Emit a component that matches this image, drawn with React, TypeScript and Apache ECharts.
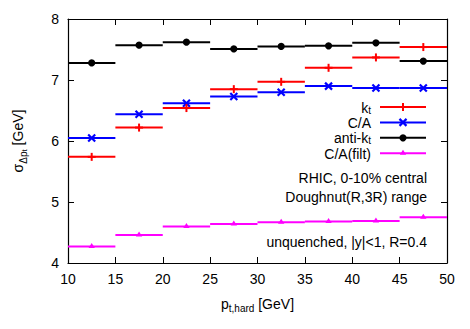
import React, { useEffect, useRef } from "react";
import * as echarts from "echarts";

const binLo = [10, 15, 20, 25, 30, 35, 40, 45];
const binHi = [15, 20, 25, 30, 35, 40, 45, 50];
const binCenter = [12.5, 17.5, 22.5, 27.5, 32.5, 37.5, 42.5, 47.5];

const ktValues = [5.74, 6.22, 6.54, 6.85, 6.97, 7.2, 7.37, 7.54];
const caValues = [6.05, 6.44, 6.62, 6.73, 6.8, 6.9, 6.87, 6.87];
const antiKtValues = [7.28, 7.57, 7.62, 7.51, 7.55, 7.56, 7.61, 7.31];
const caFiltValues = [4.27, 4.46, 4.6, 4.64, 4.67, 4.68, 4.69, 4.75];

const seriesNames = ["k_t", "C/A", "anti-k_t", "C/A(filt)"];
const legendLabels = ["k{lsub|t}", "C/A", "anti-k{lsub|t}", "C/A(filt)"];
const seriesColors = ["#ff0000", "#0000ff", "#000000", "#ff00ff"];
const seriesMarkers = ["plus", "cross", "circle", "triangle"];
const seriesValues = [ktValues, caValues, antiKtValues, caFiltValues];

const annotations = ["RHIC, 0-10% central", "Doughnut(R,3R) range", "unquenched, |y|<1, R=0.4"];

const FONT = "'Liberation Sans', Arial, Helvetica, sans-serif";

const subRich = {
  sub: { fontSize: 10, fontFamily: FONT, lineHeight: 10, verticalAlign: "bottom", color: "#000" },
  subsub: { fontSize: 8, fontFamily: FONT, lineHeight: 6, verticalAlign: "bottom", color: "#000" },
  lsub: { fontSize: 10, fontFamily: FONT, lineHeight: 7, verticalAlign: "bottom", color: "#000" },
};

function markerShapes(kind: string, cx: number, cy: number, color: string): any[] {
  if (kind === "plus") {
    return [
      { type: "line", shape: { x1: cx, y1: cy - 4, x2: cx, y2: cy + 4 }, style: { stroke: color, lineWidth: 2 } },
      { type: "line", shape: { x1: cx - 4, y1: cy, x2: cx + 4, y2: cy }, style: { stroke: color, lineWidth: 2 } },
    ];
  }
  if (kind === "cross") {
    return [
      { type: "line", shape: { x1: cx - 3.5, y1: cy - 3.5, x2: cx + 3.5, y2: cy + 3.5 }, style: { stroke: color, lineWidth: 2.2 } },
      { type: "line", shape: { x1: cx - 3.5, y1: cy + 3.5, x2: cx + 3.5, y2: cy - 3.5 }, style: { stroke: color, lineWidth: 2.2 } },
    ];
  }
  if (kind === "circle") {
    return [{ type: "circle", shape: { cx, cy, r: 3.6 }, style: { fill: color } }];
  }
  return [
    {
      type: "polygon",
      shape: { points: [[cx, cy - 3.5], [cx - 3.2, cy + 1.5], [cx + 3.2, cy + 1.5]] },
      style: { fill: color },
    },
  ];
}

export default function App() {
  const ref = useRef<HTMLDivElement>(null);

  useEffect(() => {
    if (!ref.current) return;
    const chart = echarts.init(ref.current, undefined, { renderer: "svg" });

    const series: any[] = seriesValues.map((vals, si) => ({
      type: "custom",
      name: seriesNames[si],
      xAxisIndex: 0,
      yAxisIndex: 0,
      data: vals.map((v, i) => [binLo[i], binHi[i], binCenter[i], v]),
      encode: { x: [0, 1, 2], y: 3 },
      renderItem: (params: any, api: any) => {
        const y = api.value(3);
        const p1 = api.coord([api.value(0), y]);
        const p2 = api.coord([api.value(1), y]);
        const c = api.coord([api.value(2), y]);
        const color = seriesColors[si];
        return {
          type: "group",
          children: [
            { type: "line", shape: { x1: p1[0], y1: p1[1], x2: p2[0], y2: p2[1] }, style: { stroke: color, lineWidth: 2 } },
            ...markerShapes(seriesMarkers[si], c[0], c[1], color),
          ],
        };
      },
      z: 10 - si,
    }));

    const legendTop = 107;
    const legendStep = 15.4;
    const graphics: any[] = [];
    seriesNames.forEach((_, i) => {
      const y = legendTop + i * legendStep;
      graphics.push({
        type: "text",
        x: 371,
        y: y + 0.5,
        style: {
          text: legendLabels[i],
          align: "right",
          verticalAlign: "middle",
          font: `14px ${FONT}`,
          lineHeight: 15,
          fill: "#000",
          rich: subRich,
        },
      });
      graphics.push({
        type: "line",
        shape: { x1: 380, y1: y, x2: 426, y2: y },
        style: { stroke: seriesColors[i], lineWidth: 2 },
      });
      markerShapes(seriesMarkers[i], 403, y, seriesColors[i]).forEach((m) => graphics.push(m));
    });
    const annY = [178, 197, 242];
    annotations.forEach((t, i) => {
      graphics.push({
        type: "text",
        x: 427,
        y: annY[i],
        style: { text: t, align: "right", verticalAlign: "middle", font: `14px ${FONT}`, fill: "#000" },
      });
    });

    const tickStyle = { show: true, inside: true, length: 6, lineStyle: { color: "#000", width: 1 } };

    chart.setOption({
      animation: false,
      grid: { left: 67, right: 23, top: 19, bottom: 66, containLabel: false },
      xAxis: [
        {
          type: "value",
          min: 10,
          max: 50,
          interval: 5,
          position: "bottom",
          axisLine: { show: true, lineStyle: { color: "#000", width: 1.2 } },
          axisTick: tickStyle,
          splitLine: { show: false },
          axisLabel: { color: "#000", fontSize: 14, fontFamily: FONT, margin: 9 },
          name: "p{sub|t,hard} [GeV]",
          nameLocation: "middle",
          nameGap: 32,
          nameTextStyle: {
            color: "#000",
            fontSize: 14,
            fontFamily: FONT,
            lineHeight: 18,
            rich: subRich,
          },
        },
        {
          type: "value",
          min: 10,
          max: 50,
          interval: 5,
          position: "top",
          axisLine: { show: true, lineStyle: { color: "#000", width: 1.2 } },
          axisTick: tickStyle,
          splitLine: { show: false },
          axisLabel: { show: false },
        },
      ],
      yAxis: [
        {
          type: "value",
          min: 4,
          max: 8,
          interval: 1,
          position: "left",
          axisLine: { show: true, lineStyle: { color: "#000", width: 1.2 } },
          axisTick: tickStyle,
          splitLine: { show: false },
          axisLabel: { color: "#000", fontSize: 14, fontFamily: FONT, margin: 9 },
          name: "σ{sub|Δp}{subsub|t} [GeV]",
          nameLocation: "middle",
          nameRotate: 90,
          nameGap: 40,
          nameTextStyle: {
            color: "#000",
            fontSize: 14,
            fontFamily: FONT,
            lineHeight: 20,
            rich: subRich,
          },
        },
        {
          type: "value",
          min: 4,
          max: 8,
          interval: 1,
          position: "right",
          axisLine: { show: true, lineStyle: { color: "#000", width: 1.2 } },
          axisTick: tickStyle,
          splitLine: { show: false },
          axisLabel: { show: false },
        },
      ],
      series,
      graphic: graphics,
    });

    return () => chart.dispose();
  }, []);

  return <div ref={ref} style={{ width: 470, height: 329, position: "absolute", left: 0, top: 0, background: "#fff" }} />;
}
